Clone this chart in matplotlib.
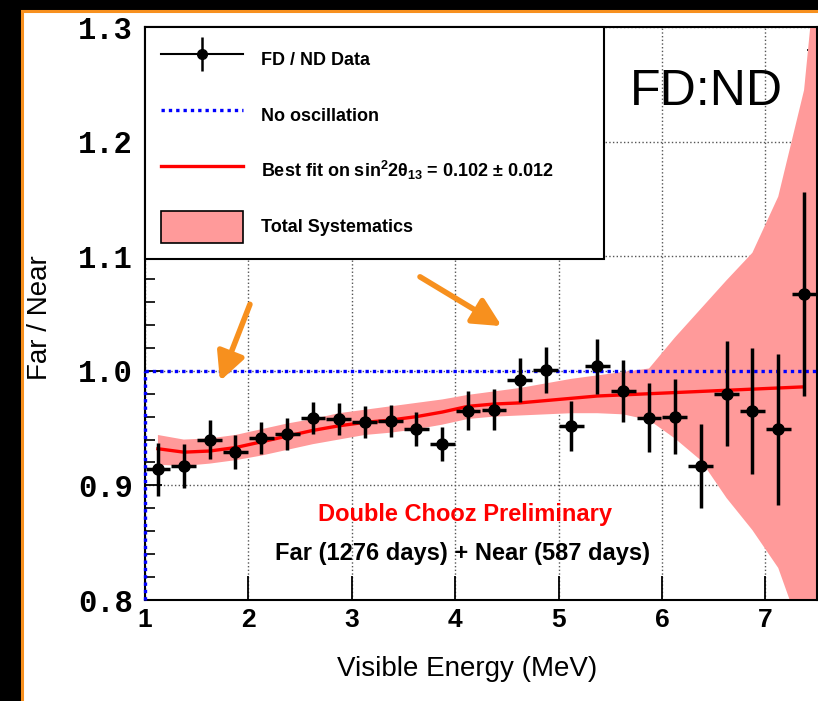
import matplotlib
matplotlib.use("Agg")
import matplotlib.pyplot as plt
from matplotlib.patches import Rectangle, Patch
from matplotlib.lines import Line2D
from matplotlib.ticker import MultipleLocator

plt.rcParams['font.family'] = ['Liberation Sans', 'DejaVu Sans']
plt.rcParams['mathtext.fontset'] = 'custom'
plt.rcParams['mathtext.rm'] = 'Liberation Sans:bold'
plt.rcParams['mathtext.it'] = 'Liberation Sans:bold'
plt.rcParams['mathtext.bf'] = 'Liberation Sans:bold'

# bin centres (MeV) and FD/ND ratio
energy = [1.125, 1.375, 1.625, 1.875, 2.125, 2.375, 2.625, 2.875, 3.125, 3.375,
          3.625, 3.875, 4.125, 4.375, 4.625, 4.875, 5.125, 5.375, 5.625, 5.875,
          6.125, 6.375, 6.625, 6.875, 7.125, 7.375]
ratio = [0.914, 0.917, 0.940, 0.929, 0.941, 0.945, 0.959, 0.958, 0.955, 0.956,
         0.949, 0.936, 0.965, 0.966, 0.992, 1.001, 0.952, 1.004, 0.982, 0.959,
         0.960, 0.917, 0.980, 0.965, 0.949, 1.067]
ratio_err = [0.023, 0.019, 0.017, 0.015, 0.014, 0.014, 0.014, 0.014, 0.014, 0.014,
             0.015, 0.015, 0.017, 0.018, 0.019, 0.020, 0.022, 0.024, 0.027, 0.030,
             0.033, 0.037, 0.046, 0.055, 0.066, 0.089]
energy_err = 0.12

best_fit = [0.932, 0.929, 0.930, 0.933, 0.938, 0.943, 0.948, 0.952, 0.955, 0.957,
            0.960, 0.964, 0.969, 0.971, 0.972, 0.974, 0.976, 0.978, 0.979, 0.980,
            0.981, 0.982, 0.983, 0.984, 0.985, 0.986]

# systematics envelope
band_x = energy + [7.5]
band_hi = [0.944, 0.940, 0.941, 0.944, 0.949, 0.954, 0.958, 0.963, 0.966, 0.969,
           0.972, 0.975, 0.979, 0.982, 0.985, 0.989, 0.993, 0.996, 0.999, 1.002,
           1.029, 1.054, 1.079, 1.103, 1.152, 1.245, 1.36]
band_lo = [0.918, 0.917, 0.919, 0.922, 0.926, 0.931, 0.936, 0.940, 0.944, 0.946,
           0.949, 0.953, 0.958, 0.960, 0.961, 0.962, 0.963, 0.963, 0.962, 0.957,
           0.941, 0.922, 0.889, 0.861, 0.828, 0.765, 0.73]

no_osc = 1.0
yticks = [0.8, 0.9, 1.0, 1.1, 1.2, 1.3]
ytick_labels = ['0.8', '0.9', '1.0', '1.1', '1.2', '1.3']

orange = '#f7901e'
pink = '#ff9a9a'

fig = plt.figure(figsize=(8.18, 7.01), dpi=100)
fig.patch.set_facecolor('black')
panel = Rectangle((21.5 / 818, -0.1), 1.2, 1.1 - 11.5 / 701,
                  transform=fig.transFigure, facecolor='white',
                  edgecolor=orange, linewidth=2.2, zorder=-5)
fig.patches.append(panel)

ax = fig.add_axes([145 / 818, 1 - 600 / 701, 672 / 818, 573 / 701])
ax.set_zorder(1)
ax.set_xlim(1, 7.5)
ax.set_ylim(0.8, 1.3)

ax.grid(True, which='major', linestyle=':', color='#555555', linewidth=1.0)
ax.set_axisbelow(True)

ax.fill_between(band_x, band_lo, band_hi, color=pink, linewidth=0, zorder=2)
ax.axhline(no_osc, color='blue', linestyle=(0, (1, 1.2)), linewidth=2.4, zorder=3)
ax.plot([1.0, 1.0], [0.8, no_osc], color='blue', linestyle=(0, (1, 1.2)),
        linewidth=2.4, zorder=3, clip_on=False)
ax.plot(energy, best_fit, color='red', linewidth=2.4, zorder=4)
ax.errorbar(energy, ratio, yerr=ratio_err, xerr=energy_err, fmt='o', color='black',
            markersize=8, elinewidth=2.5, capsize=0, zorder=5)

# arrows
arrow_style = '-|>,head_length=1.7,head_width=0.85'
ax.annotate('', xy=(1.725, 0.991), xytext=(2.015, 1.058),
            arrowprops=dict(arrowstyle=arrow_style, color=orange, lw=4,
                            shrinkA=0, shrinkB=0), zorder=6)
ax.annotate('', xy=(4.45, 1.039), xytext=(3.66, 1.082),
            arrowprops=dict(arrowstyle=arrow_style, color=orange, lw=4,
                            shrinkA=0, shrinkB=0), zorder=6)

# texts
ax.text(0.836, 0.887, 'FD:ND', transform=ax.transAxes, fontsize=36,
        ha='center', va='center')
ax.text(0.476, 0.150, 'Double Chooz Preliminary', transform=ax.transAxes,
        fontsize=17, fontweight='bold', color='red', ha='center', va='center')
ax.text(0.472, 0.082, 'Far (1276 days) + Near (587 days)', transform=ax.transAxes,
        fontsize=17, fontweight='bold', color='black', ha='center', va='center')

# axes styling
for s in ax.spines.values():
    s.set_linewidth(1.5)
ax.xaxis.set_major_locator(MultipleLocator(1))
ax.yaxis.set_minor_locator(MultipleLocator(0.02))
ax.tick_params(axis='x', which='major', direction='in', length=17, width=1.3,
               labelsize=19, pad=6, top=False)
ax.tick_params(axis='y', which='major', direction='in', length=12, width=1.3,
               right=True, pad=9)
ax.tick_params(axis='y', which='minor', direction='in', length=7, width=1.2,
               right=True)
for lab in ax.get_xticklabels():
    lab.set_fontweight('bold')
ax.set_yticks(yticks)
ax.set_yticklabels(ytick_labels, family='Liberation Mono', fontweight='bold',
                   fontsize=22)

ax.set_xlabel('Visible Energy (MeV)', fontsize=20)
ax.xaxis.set_label_coords(0.48, -0.098)
ax.set_ylabel('Far / Near', fontsize=20)
ax.yaxis.set_label_coords(-0.137, 0.492)

# legend
data_handle = (Line2D([], [], color='black', linewidth=1.5),
               Line2D([], [], color='black', marker='|', markersize=24,
                      markeredgewidth=1.8, linestyle='none'),
               Line2D([], [], color='black', marker='o', markersize=7,
                      linestyle='none'))
noosc_handle = Line2D([], [], color='blue', linestyle=(0, (1, 1.2)), linewidth=2.4)
fit_handle = Line2D([], [], color='red', linewidth=2.4)
band_handle = Patch(facecolor=pink, edgecolor='black', linewidth=1.2)
leg_labels = ['FD / ND Data', 'No oscillation',
              r'Best fit on sin$^{2}$2$\theta_{13}$ = 0.102 $\pm$ 0.012',
              'Total Systematics']
leg = ax.legend([data_handle, noosc_handle, fit_handle, band_handle], leg_labels,
                loc='upper left', bbox_to_anchor=(0, 0, 0.683, 1),
                mode='expand', borderaxespad=0, fancybox=False, framealpha=1,
                edgecolor='black', prop={'weight': 'bold', 'size': 13},
                handlelength=4.55, handleheight=2.3, handletextpad=0.95,
                labelspacing=1.36, borderpad=0.9)
leg.get_frame().set_linewidth(1.5)
leg.set_zorder(10)

fig.savefig('out.png', dpi=100, facecolor=fig.get_facecolor())
